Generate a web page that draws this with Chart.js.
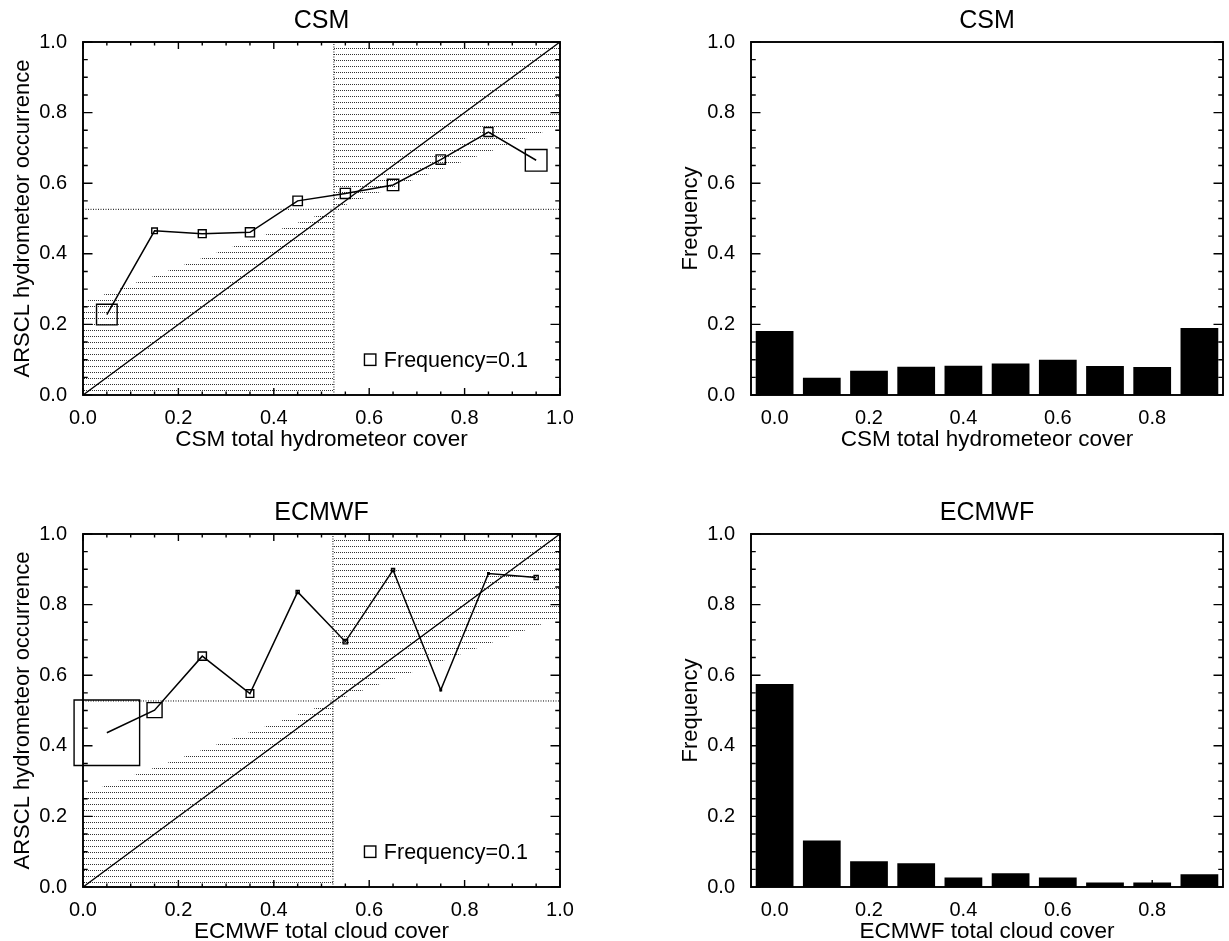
<!DOCTYPE html>
<html>
<head>
<meta charset="utf-8">
<script src="https://cdn.jsdelivr.net/npm/chart.js@4.4.0/dist/chart.umd.min.js"></script>
<style>
  html, body { margin: 0; padding: 0; background: #fff; overflow: hidden; }
  canvas { position: absolute; }
</style>
</head>
<body>
<canvas id="csmRel" width="600" height="470" style="left:0;top:0"></canvas>
<canvas id="csmHist" width="589" height="470" style="left:640px;top:0"></canvas>
<canvas id="ecmwfRel" width="600" height="470" style="left:0;top:492px"></canvas>
<canvas id="ecmwfHist" width="589" height="470" style="left:640px;top:492px"></canvas>
<script>
// bins of model cover
var binCenters = [0.05, 0.15, 0.25, 0.35, 0.45, 0.55, 0.65, 0.75, 0.85, 0.95];
var barLabels = ['0.0', '0.1', '0.2', '0.3', '0.4', '0.5', '0.6', '0.7', '0.8', '0.9'];

// ARSCL hydrometeor occurrence per bin
var csmOccurrence = [0.228, 0.465, 0.457, 0.461, 0.550, 0.571, 0.595, 0.667, 0.745, 0.665];
var ecmwfOccurrence = [0.437, 0.501, 0.654, 0.548, 0.836, 0.695, 0.898, 0.558, 0.888, 0.877];

// frequency of each bin
var csmFrequency = [0.181, 0.049, 0.069, 0.080, 0.083, 0.089, 0.100, 0.082, 0.079, 0.190];
var ecmwfFrequency = [0.575, 0.132, 0.073, 0.067, 0.027, 0.039, 0.027, 0.013, 0.013, 0.036];

// climatology lines (observed mean, model mean)
var csmMeans = [0.526, 0.526];
var ecmwfMeans = [0.527, 0.524];

var keyFrequency = 0.1;
var SIDE_PER_FREQ = 114; // square side in px for frequency 1

var FONT = "'Liberation Sans', Arial, Helvetica, sans-serif";
Chart.defaults.font.family = FONT;
Chart.defaults.color = '#000';

// horizontal rows of dots for the shaded skill area
var dotCanvas = document.createElement('canvas');
dotCanvas.width = 2;
dotCanvas.height = 6;
var dctx = dotCanvas.getContext('2d');
dctx.fillStyle = '#333';
dctx.fillRect(0, 0, 1, 1);

function tickText(v) {
    var k = v * 5;
    return Math.abs(k - Math.round(k)) < 1e-6 ? Math.abs(v).toFixed(1) : '';
}

// inward tick marks on the frame, plus the frequency key
var boxTicks = {
    id: 'boxTicks',
    afterDatasetsDraw(chart, args, opts) {
        var ctx = chart.ctx;
        var a = chart.chartArea;
        var xs = chart.scales.x;
        var ys = chart.scales.y;
        ctx.save();
        ctx.strokeStyle = '#000';
        ctx.lineWidth = 1.4;
        ctx.beginPath();
        xs.ticks.forEach(function (t, i) {
            var px = xs.getPixelForTick(i);
            var len = t.label !== '' ? opts.xMajor : opts.xMajor / 2;
            ctx.moveTo(px, a.bottom);
            ctx.lineTo(px, a.bottom - len);
            if (opts.top) {
                ctx.moveTo(px, a.top);
                ctx.lineTo(px, a.top + len);
            }
        });
        ys.ticks.forEach(function (t, i) {
            var py = ys.getPixelForTick(i);
            var len = t.label !== '' ? opts.yMajor : opts.yMajor / 2;
            ctx.moveTo(a.left, py);
            ctx.lineTo(a.left + len, py);
            ctx.moveTo(a.right, py);
            ctx.lineTo(a.right - len, py);
        });
        ctx.stroke();
        ctx.lineWidth = 1.9;
        ctx.strokeRect(a.left, a.top, a.right - a.left, a.bottom - a.top);

        if (opts.key) {
            var side = keyFrequency * SIDE_PER_FREQ;
            var cx = xs.getPixelForValue(opts.key.x);
            var cy = ys.getPixelForValue(opts.key.y);
            ctx.lineWidth = 1.4;
            ctx.strokeRect(cx - side / 2, cy - side / 2, side, side);
            ctx.fillStyle = '#000';
            ctx.font = '21.5px ' + FONT;
            ctx.textBaseline = 'middle';
            ctx.fillText('Frequency=' + keyFrequency, cx + side / 2 + 8, cy + 1);
        }
        ctx.restore();
    }
};

function yScale(width, titleText, titleGap) {
    return {
        type: 'linear', min: 0, max: 1,
        grid: { display: false },
        border: { display: false },
        ticks: { stepSize: 0.05, autoSkip: false, padding: 8, font: { size: 20 }, callback: tickText },
        title: { display: true, text: titleText, font: { size: 22 }, padding: { top: titleGap } },
        afterFit: function (s) { s.width = width; }
    };
}

function titleOpts(text) {
    return { display: true, text: text, fullSize: false, font: { size: 25, weight: 'normal' }, padding: { top: 6, bottom: 6 } };
}

function xTitle(text) {
    return { display: true, text: text, font: { size: 22.5 }, padding: { bottom: 16.5 } };
}

function reliabilityChart(id, title, occ, freq, means, xText) {
    var obs = means[0];
    var mod = means[1];
    var pattern = document.getElementById(id).getContext('2d').createPattern(dotCanvas, 'repeat');
    return new Chart(document.getElementById(id), {
        type: 'line',
        data: {
            datasets: [
                {
                    data: binCenters.map(function (x, i) { return { x: x, y: occ[i] }; }),
                    borderColor: '#000', borderWidth: 1.5, tension: 0,
                    pointStyle: 'rect',
                    pointRadius: freq.map(function (f) { return f * SIDE_PER_FREQ / Math.SQRT2; }),
                    pointBorderColor: '#000', pointBorderWidth: 1.4,
                    pointBackgroundColor: 'rgba(0,0,0,0)',
                    clip: false
                },
                { data: [{ x: 0, y: 0 }, { x: 1, y: 1 }], borderColor: '#000', borderWidth: 1.4, pointRadius: 0 },
                { data: [{ x: mod, y: 0 }, { x: mod, y: 1 }], borderColor: '#000', borderWidth: 1, borderDash: [1, 1.5], pointRadius: 0 },
                { data: [{ x: 0, y: obs }, { x: 1, y: obs }], borderColor: '#000', borderWidth: 1, borderDash: [1, 1.5], pointRadius: 0 },
                { data: [{ x: 0, y: obs / 2 }, { x: mod, y: (mod + obs) / 2 }], borderColor: 'rgba(0,0,0,0)', backgroundColor: pattern, fill: 'origin', pointRadius: 0 },
                { data: [{ x: mod, y: (mod + obs) / 2 }, { x: 1, y: (1 + obs) / 2 }], borderColor: 'rgba(0,0,0,0)', backgroundColor: pattern, fill: 'end', pointRadius: 0 }
            ]
        },
        options: {
            responsive: false,
            animation: false,
            events: [],
            layout: { autoPadding: false, padding: { left: 0, right: 40, top: 0, bottom: 0 } },
            plugins: {
                legend: { display: false },
                tooltip: { enabled: false },
                title: titleOpts(title),
                boxTicks: { xMajor: 7, yMajor: 9.5, top: true, key: { x: 0.602, y: 0.1 } }
            },
            scales: {
                x: {
                    type: 'linear', min: 0, max: 1,
                    grid: { display: false },
                    border: { display: false },
                    ticks: { stepSize: 0.05, autoSkip: false, maxRotation: 0, padding: 3, font: { size: 20 }, callback: tickText },
                    title: xTitle(xText),
                    afterFit: function (s) { s.height = 75; }
                },
                y: yScale(83, 'ARSCL hydrometeor occurrence', 10)
            }
        },
        plugins: [boxTicks]
    });
}

function histogramChart(id, title, freq, xText) {
    return new Chart(document.getElementById(id), {
        type: 'bar',
        data: {
            labels: barLabels,
            datasets: [{
                data: freq,
                backgroundColor: '#000',
                borderWidth: 0,
                categoryPercentage: 0.8,
                barPercentage: 1.0
            }]
        },
        options: {
            responsive: false,
            animation: false,
            events: [],
            layout: { autoPadding: false, padding: { left: 0, right: 6, top: 0, bottom: 0 } },
            plugins: {
                legend: { display: false },
                tooltip: { enabled: false },
                title: titleOpts(title),
                boxTicks: { xMajor: 7, yMajor: 9.5, top: false }
            },
            scales: {
                x: {
                    type: 'category',
                    grid: { display: false },
                    border: { display: false },
                    ticks: {
                        autoSkip: false, maxRotation: 0, padding: 3, font: { size: 20 },
                        callback: function (v, i) { return i % 2 === 0 ? barLabels[i] : ''; }
                    },
                    title: xTitle(xText),
                    afterFit: function (s) { s.height = 75; }
                },
                y: yScale(111, 'Frequency', 38)
            }
        },
        plugins: [boxTicks]
    });
}

reliabilityChart('csmRel', 'CSM', csmOccurrence, csmFrequency, csmMeans, 'CSM total hydrometeor cover');
histogramChart('csmHist', 'CSM', csmFrequency, 'CSM total hydrometeor cover');
reliabilityChart('ecmwfRel', 'ECMWF', ecmwfOccurrence, ecmwfFrequency, ecmwfMeans, 'ECMWF total cloud cover');
histogramChart('ecmwfHist', 'ECMWF', ecmwfFrequency, 'ECMWF total cloud cover');
</script>
</body>
</html>
